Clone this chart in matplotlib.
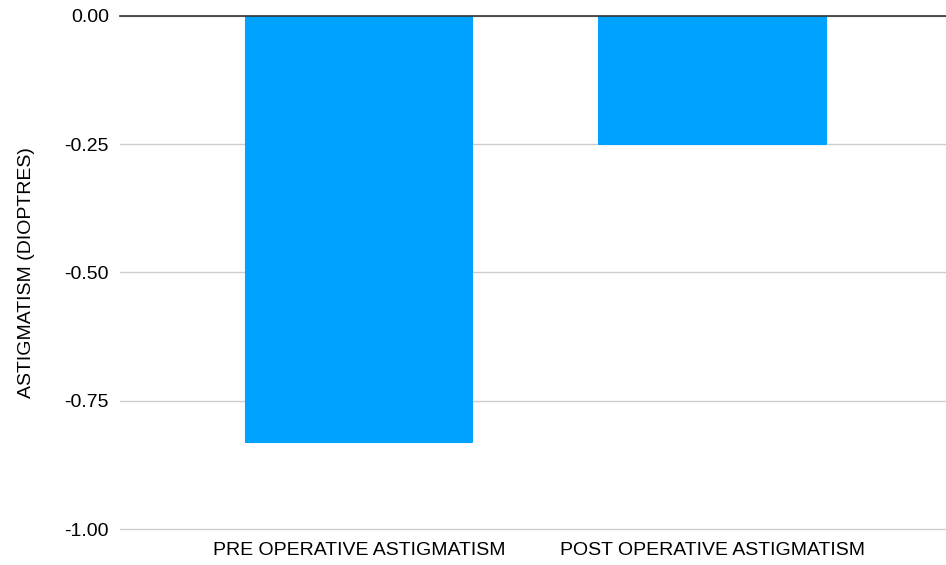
import matplotlib.pyplot as plt

categories = ["PRE OPERATIVE ASTIGMATISM", "POST OPERATIVE ASTIGMATISM"]
astigmatism = [-0.83, -0.25]
y_ticks = [0.0, -0.25, -0.5, -0.75, -1.0]

plt.rcParams["font.family"] = ["Liberation Sans", "DejaVu Sans"]

fig = plt.figure(figsize=(9.46, 5.65), dpi=100)
ax = fig.add_axes([0.1268, 0.0637, 0.8732, 0.908])

x = range(len(categories))
ax.bar(x, astigmatism, width=0.64, color="#00A2FF", edgecolor="#00A2FF",
       linewidth=1.5, joinstyle="round", zorder=3)

ax.set_xlim(-0.676, 1.66)
ax.set_ylim(-1.0, 0.0)
ax.set_yticks(y_ticks)
ax.set_yticklabels([f"{t:.2f}" for t in y_ticks])
ax.set_xticks(list(x))
ax.set_xticklabels(categories)

ax.grid(axis="y", color="#cccccc", linewidth=1, zorder=0)
for gl in ax.get_ygridlines():
    gl.set_clip_on(False)
ax.axhline(0, color="#333333", linewidth=1.2, zorder=4, clip_on=False)
for s in ax.spines.values():
    s.set_visible(False)
ax.tick_params(axis="y", length=0, labelsize=14, pad=8)
ax.tick_params(axis="x", length=0, labelsize=14, pad=9.5)
ax.set_ylabel("ASTIGMATISM (DIOPTRES)", fontsize=14, labelpad=21)

fig.savefig("out.png", dpi=100)
